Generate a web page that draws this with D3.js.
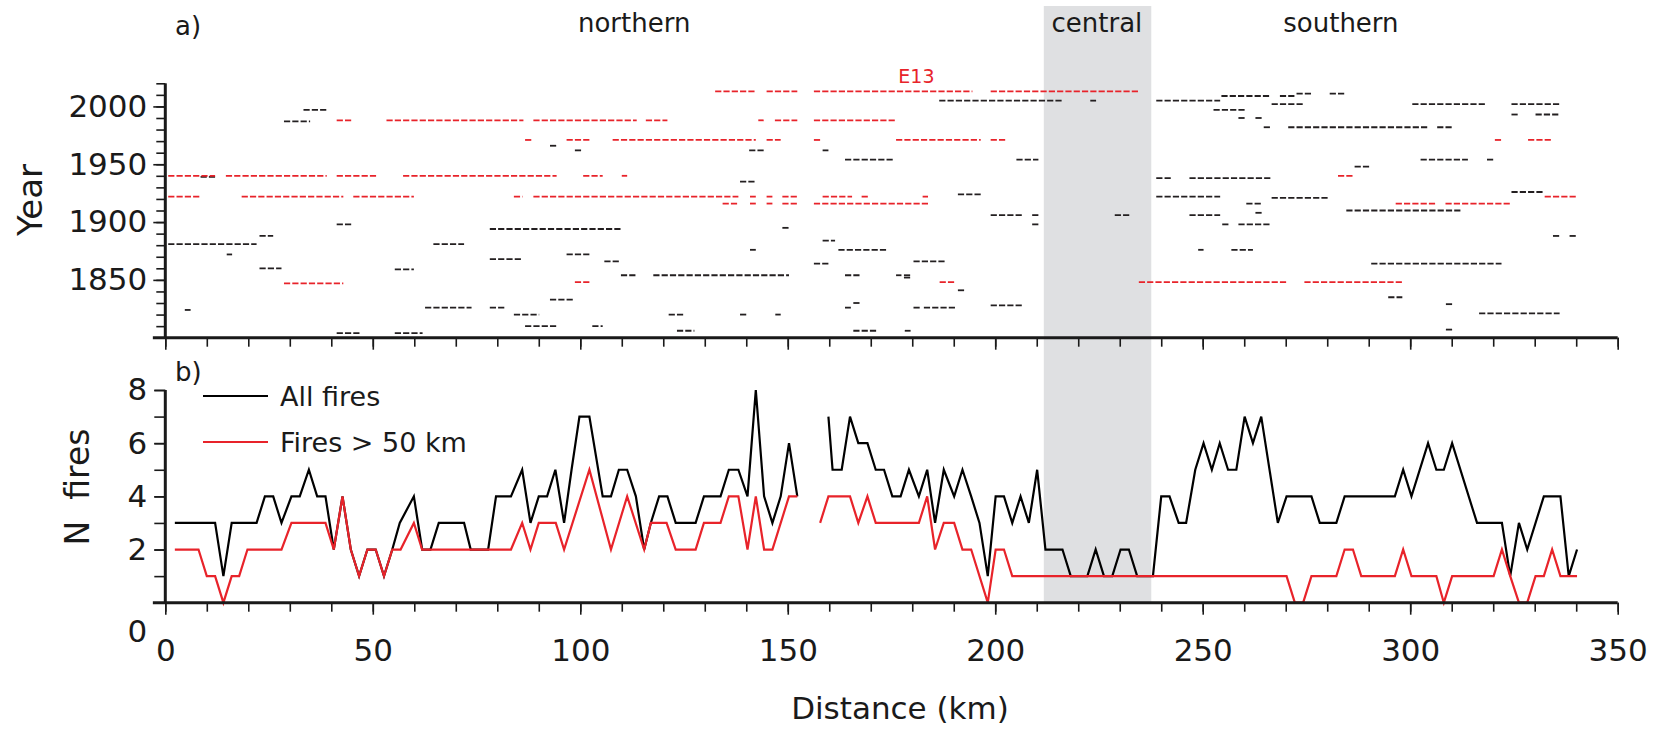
<!DOCTYPE html>
<html>
<head>
<meta charset="utf-8">
<script src="https://cdn.jsdelivr.net/npm/d3@7"></script>
<style>
  body { margin: 0; background: #fff; }
  text { font-family: "DejaVu Sans", sans-serif; fill: #1a1a1a; }
</style>
</head>
<body>
<div id="chart"></div>
<script>
// fire records: [start km, end km, year]
var allFires = [
  [33.3,38.9,1997],[28.6,34.9,1987],[92.7,94.3,1966],[8.5,12.2,1939],[41.3,44.9,1898],
  [78.2,110,1894],[22.7,26,1888],[0.7,22,1881],[64.6,72,1881],[14.8,16.1,1872],
  [78.2,86.1,1868],[22.7,28,1860],[55.3,59.9,1859],[92.7,98.3,1833],[62.6,73.8,1826],
  [78.2,81.8,1826],[4.7,6.1,1824],[84,90.1,1820],[86.7,94.3,1810],[102.9,105.4,1810],
  [41.3,46.9,1804],[55.3,62,1804],
  [186.5,216.5,2005],[222.9,224.3,2005],[98.7,100.2,1962],[140.7,144.3,1962],[158.4,159.8,1962],
  [163.8,175.6,1954],[205.1,210.4,1954],[138.5,142.4,1935],[148.7,150.3,1895],[158.4,161.4,1884],
  [140.9,142.3,1876],[162.2,174.1,1876],[96.7,102.3,1872],[105.8,109.5,1866],[180.3,187.9,1866],
  [156.3,160,1864],[109.8,113.6,1854],[117.6,150.3,1854],[163.8,167.4,1854],[176.1,177.4,1854],
  [178,179.6,1854],[178,179.6,1852],[191,192.6,1841],[165.8,167.5,1830],[163.8,165.2,1826],
  [180.3,181.9,1826],[182.8,190.5,1826],[198.9,206.5,1828],[121.3,125.2,1820],[138.5,140.2,1820],
  [147,148.3,1820],[123.3,127.5,1806],[165.8,171.5,1806],[178.2,179.6,1806],
  [191,196.5,1924],[198.9,206.5,1906],[208.9,210.5,1906],[228.8,232.4,1906],[208.9,210.5,1898],
  [254.5,266.3,2009],[268.6,272.4,2009],[272.6,276.2,2011],[280.6,284.2,2011],[238.8,254.2,2005],
  [266.6,274.2,2002],[300.5,318,2002],[324.4,336,2002],[252.6,260.3,1997],[324.4,326,1993],
  [330.2,336,1993],[258.6,260.3,1990],[262.7,264.3,1990],[264.7,266.3,1982],[270.6,304.1,1982],
  [306.5,310.1,1982],[302.5,313.9,1954],[318.5,320,1954],[286.6,290.2,1948],[238.8,242.3,1938],
  [246.8,266.3,1938],[324.4,332,1926],[238.8,254.2,1922],[266.6,280.2,1921],[260.5,264.3,1916],
  [284.6,312.1,1910],[262.7,264.3,1908],[246.8,254.2,1906],[254.7,256.2,1898],[258.6,266.3,1898],
  [334.4,335.9,1888],[338.4,339.9,1888],[248.9,250.2,1876],[256.9,262.1,1876],[290.6,322,1864],
  [294.7,298.1,1835],[308.6,310.1,1829],[316.6,336,1821],[308.6,310.1,1807]
];

// fires > 50 km
var bigFires = [
  [41.3,44.9,1988],[53.3,86.3,1988],[88.7,113.6,1988],[115.8,121,1988],[142.9,144.2,1988],
  [146.9,152.3,1988],[156.3,175.8,1988],
  [86.7,88.3,1971],[96.7,102.3,1971],[107.8,142.3,1971],[144.9,148.3,1971],[156.3,157.8,1971],
  [176.1,196.5,1971],[198.9,202.5,1971],[320.4,322,1971],[328.4,334,1971],
  [0.7,12,1940],[14.6,38.9,1940],[41.3,50.9,1940],[57.3,94.3,1940],[100.7,105.4,1940],
  [110,111.3,1940],[282.6,286.2,1940],
  [0.7,8.2,1922],[18.4,42.9,1922],[45.3,59.9,1922],[84,86.1,1922],[88.7,138.1,1922],
  [140.9,142.3,1922],[144.9,146.3,1922],[148.7,152.3,1922],[158.4,165.5,1922],[167.8,169.6,1922],
  [182.5,183.8,1922],[332.4,339.9,1922],
  [134.3,138.1,1916],[140.9,142.3,1916],[144.9,146.3,1916],[148.7,152.3,1916],[156.3,183.8,1916],
  [296.5,306.1,1916],[308.5,324,1916],
  [28.6,42.9,1847],[98.7,102.3,1848],[186.6,190.5,1848],[234.6,270.1,1848],[274.5,298.1,1848],
  [132.5,142.3,2013],[144.9,152.3,2013],[156.3,194.5,2013],[198.9,234.4,2013]
];

// number of fires along the transect: [km, N]  (null = no data)
var nAll = [
  [2.3,3],[12,3],[14,1],[16,3],[22,3],[24,4],[26,4],[28,3],[30.4,4],[32.4,4],[34.6,5],[36.6,4],
  [38.6,4],[40.6,2],[42.7,4],[44.7,2],[46.7,1],[48.7,2],[50.7,2],[52.7,1],[54.7,2],[56.5,3],
  [59.9,4],[61.9,2],[63.9,2],[65.9,3],[72,3],[73.6,2],[77.8,2],[79.7,4],[83.3,4],[86,5],[88,3],
  [90,4],[92,4],[94,5],[96.1,3],[97.9,5],[99.8,7],[102.2,7],[105.4,4],[107.4,4],[109.3,5],
  [111.3,5],[113.4,4],[115.4,2],[117,3],[119,4],[121,4],[123,3],[127.8,3],[129.8,4],[133.8,4],
  [135.8,5],[138.1,5],[140.3,4],[142.3,8],[144.3,4],[146.3,3],[148.3,4],[150.3,6],[152.3,4],
  [155,null],
  [159.8,7],[160.8,5],[163,5],[165,7],[167,6],[169.2,6],[171.2,5],[173.2,5],[175.2,4],[177.2,4],
  [179.2,5],[181.6,4],[183.6,5],[185.5,3],[187.6,5],[190.1,4],[192.1,5],[194.2,4],[196.2,3],
  [198.2,1],[200.1,4],[202.1,4],[204.1,3],[206.1,4],[208.1,3],[210.1,5],[212.1,2],[216.2,2],
  [218.2,1],[222.2,1],[224.2,2],[226.2,1],[228.2,1],[230.2,2],[232.2,2],[234.2,1],[238,1],
  [240,4],[242,4],[244.2,3],[246,3],[248.2,5],[250.2,6],[252.2,5],[254.1,6],[256.1,5],[258.1,5],
  [260.1,7],[262.1,6],[264.1,7],[268.1,3],[270.2,4],[276.2,4],[278.2,3],[282.2,3],[284.2,4],
  [296.3,4],[298.3,5],[300.3,4],[304.3,6],[306.3,5],[308.1,5],[310.1,6],[316.1,3],[322.1,3],
  [324.1,1],[326.2,3],[328.2,2],[332.2,4],[336.2,4],[338.2,1],[340.2,2]
];

var nBig = [
  [2.3,2],[8,2],[10,1],[12,1],[14,0],[16,1],[17.8,1],[19.8,2],[28,2],[30.4,3],[38.6,3],[40.6,2],
  [42.7,4],[44.7,2],[46.7,1],[48.7,2],[50.7,2],[52.7,1],[54.7,2],[56.7,2],[59.9,3],[61.9,2],
  [83.3,2],[86,3],[88,2],[90,3],[94.1,3],[96.1,2],[102.2,5],[107.4,2],[111.3,4],[115.4,2],
  [117,3],[120.8,3],[123,2],[127.8,2],[129.8,3],[133.8,3],[135.8,4],[138.1,4],[140.3,2],
  [142.3,4],[144.3,2],[146.3,2],[150.3,4],[152.3,4],
  [155,null],
  [157.8,3],[159.8,4],[165,4],[167,3],[169.2,4],[171.2,3],[181.6,3],[183.6,4],[185.5,2],
  [187.6,3],[190.1,3],[192.1,2],[194.2,2],[198.2,0],[200.1,2],[202.1,2],[204.1,1],[270.2,1],
  [272.2,0],[274.2,0],[276.2,1],[282.2,1],[284.2,2],[286.2,2],[288.2,1],[296.3,1],[298.3,2],
  [300.3,1],[306.3,1],[308.1,0],[310.1,1],[320.1,1],[322.1,2],[324.1,1],[326.2,0],[328.2,0],
  [330.2,1],[332.2,1],[334.2,2],[336.2,1],[340.2,1]
];

var centralZone = [211.7, 237.6];
var zoneLabels = [["northern", 113], ["central", 224.5], ["southern", 283.3]];
var yearMajor = [1850, 1900, 1950, 2000];
var nTicks = [0, 2, 4, 6, 8];
var kmMajor = [0, 50, 100, 150, 200, 250, 300, 350];

var black = "#1a1a1a", red = "#e8232a";

var svgWidth = 1661, svgHeight = 736;
var svg = d3.select("#chart").append("svg")
  .attr("width", svgWidth)
  .attr("height", svgHeight);

var x = d3.scaleLinear().domain([0, 350]).range([165.3, 1617.7]);
var yTop = d3.scaleLinear().domain([1800, 2020]).range([337.7, 83.3]);
var yBot = d3.scaleLinear().domain([0, 8]).range([602.7, 390]);

// central zone band
svg.append("rect")
  .attr("x", x(centralZone[0]))
  .attr("width", x(centralZone[1]) - x(centralZone[0]))
  .attr("y", 6)
  .attr("height", yBot(0) - 6)
  .attr("fill", "#dfe0e2");

// zone labels
svg.selectAll(".zone").data(zoneLabels).enter().append("text")
  .attr("x", d => x(d[1]))
  .attr("y", 32)
  .attr("text-anchor", "middle")
  .style("font-size", "26px")
  .text(d => d[0]);

// panel a: fire records
function drawFires(data, color) {
  svg.append("g").selectAll("line").data(data).enter().append("line")
    .attr("x1", d => x(d[0]))
    .attr("x2", d => x(d[1]))
    .attr("y1", d => yTop(d[2]))
    .attr("y2", d => yTop(d[2]))
    .attr("stroke", color)
    .attr("stroke-width", 1.8)
    .attr("stroke-dasharray", "6.2,2.1");
}
drawFires(allFires, "#231f20");
drawFires(bigFires, red);

svg.append("text")
  .attr("x", x(181))
  .attr("y", 83)
  .attr("text-anchor", "middle")
  .style("font-size", "19px")
  .style("fill", red)
  .text("E13");

// panel b: lines
var line = d3.line()
  .defined(d => d[1] != null)
  .x(d => x(d[0]))
  .y(d => yBot(d[1]));

svg.append("path").datum(nAll)
  .attr("d", line)
  .attr("fill", "none")
  .attr("stroke", "#000")
  .attr("stroke-width", 2.2)
  .attr("stroke-linejoin", "miter");

svg.append("path").datum(nBig)
  .attr("d", line)
  .attr("fill", "none")
  .attr("stroke", red)
  .attr("stroke-width", 2.2);

// axes
function styleAxis(g) {
  g.selectAll(".tick line").attr("stroke", black).attr("stroke-width", 1.6);
  g.selectAll(".tick text").style("font-size", "31px").style("fill", black);
  g.select(".domain").remove();
}

// panel a, left
svg.append("g")
  .attr("transform", `translate(${x(0)},0)`)
  .call(d3.axisLeft(yTop).tickValues(d3.range(1810, 2021, 10)).tickSize(9).tickFormat(""))
  .call(styleAxis);
svg.append("g")
  .attr("transform", `translate(${x(0)},0)`)
  .call(d3.axisLeft(yTop).tickValues(yearMajor).tickSize(12).tickPadding(6).tickFormat(d3.format("d")))
  .call(styleAxis);
svg.append("line")
  .attr("x1", x(0)).attr("x2", x(0))
  .attr("y1", yTop(2020)).attr("y2", yTop(1800))
  .attr("stroke", black).attr("stroke-width", 3);

// panel a, bottom
svg.append("g")
  .attr("transform", `translate(0,${yTop(1800)})`)
  .call(d3.axisBottom(x).tickValues(d3.range(0, 351, 10)).tickSize(9).tickFormat(""))
  .call(styleAxis);
svg.append("g")
  .attr("transform", `translate(0,${yTop(1800)})`)
  .call(d3.axisBottom(x).tickValues(kmMajor).tickSize(12).tickFormat(""))
  .call(styleAxis);
svg.append("line")
  .attr("x1", x(-3)).attr("x2", x(350))
  .attr("y1", yTop(1800)).attr("y2", yTop(1800))
  .attr("stroke", black).attr("stroke-width", 3);

// panel b, left
svg.append("g")
  .attr("transform", `translate(${x(0)},0)`)
  .call(d3.axisLeft(yBot).tickValues(d3.range(0, 9, 1)).tickSize(11).tickFormat(""))
  .call(styleAxis);
var nAxis = svg.append("g")
  .attr("transform", `translate(${x(0)},0)`)
  .call(d3.axisLeft(yBot).tickValues(nTicks).tickSize(11).tickPadding(7))
  .call(styleAxis);
nAxis.selectAll(".tick text").filter(d => d === 0).attr("dy", "1.25em");
svg.append("line")
  .attr("x1", x(0)).attr("x2", x(0))
  .attr("y1", yBot(8)).attr("y2", yBot(0))
  .attr("stroke", black).attr("stroke-width", 3);

// panel b, bottom
svg.append("g")
  .attr("transform", `translate(0,${yBot(0)})`)
  .call(d3.axisBottom(x).tickValues(d3.range(0, 351, 10)).tickSize(9).tickFormat(""))
  .call(styleAxis);
svg.append("g")
  .attr("transform", `translate(0,${yBot(0)})`)
  .call(d3.axisBottom(x).tickValues(kmMajor).tickSize(12).tickPadding(24))
  .call(styleAxis);
svg.append("line")
  .attr("x1", x(-3)).attr("x2", x(350))
  .attr("y1", yBot(0)).attr("y2", yBot(0))
  .attr("stroke", black).attr("stroke-width", 3);

// labels
svg.append("text").attr("x", 175).attr("y", 35).style("font-size", "26px").text("a)");
svg.append("text").attr("x", 175).attr("y", 381).style("font-size", "26px").text("b)");

svg.append("text")
  .attr("transform", "translate(42,200) rotate(-90)")
  .attr("text-anchor", "middle")
  .style("font-size", "34px")
  .text("Year");

svg.append("text")
  .attr("transform", "translate(89,487) rotate(-90)")
  .attr("text-anchor", "middle")
  .style("font-size", "33px")
  .style("white-space", "pre")
  .text("N  fires");

svg.append("text")
  .attr("x", 900)
  .attr("y", 719)
  .attr("text-anchor", "middle")
  .style("font-size", "31px")
  .text("Distance (km)");

// legend
var legend = [["All fires", "#000", 396], ["Fires > 50 km", red, 442]];
var lg = svg.append("g").selectAll("g").data(legend).enter().append("g");
lg.append("line")
  .attr("x1", 203).attr("x2", 268)
  .attr("y1", d => d[2]).attr("y2", d => d[2])
  .attr("stroke", d => d[1]).attr("stroke-width", 2.2);
lg.append("text")
  .attr("x", 280)
  .attr("y", d => d[2] + 10)
  .style("font-size", "27px")
  .text(d => d[0]);
</script>
</body>
</html>
